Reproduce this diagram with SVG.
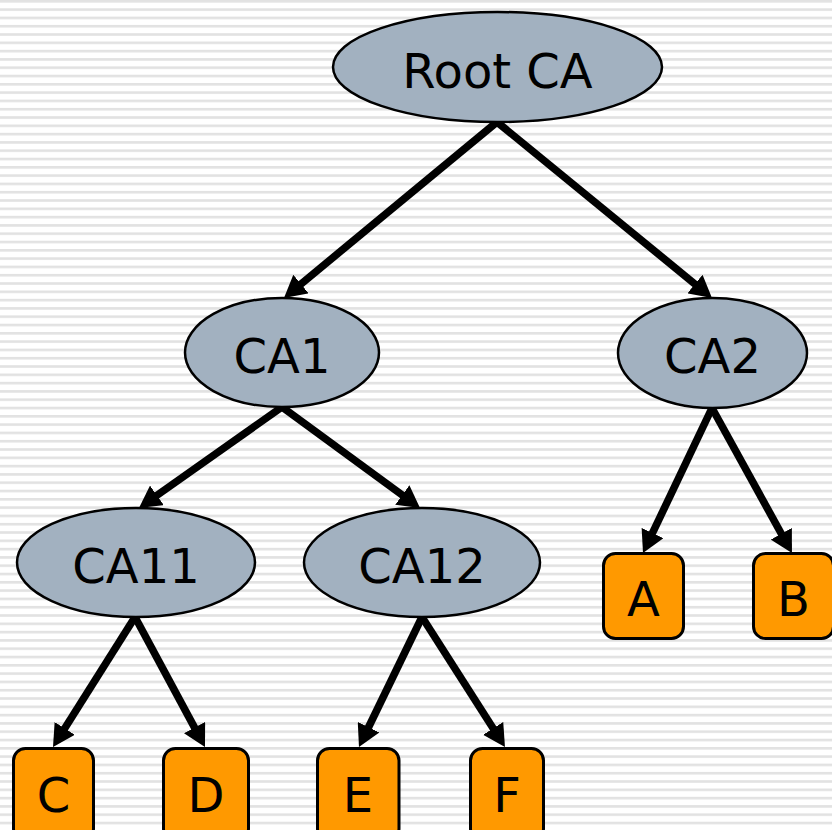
<svg xmlns="http://www.w3.org/2000/svg" width="832" height="830" viewBox="0 0 832 830">
<defs>
<pattern id="stripes" patternUnits="userSpaceOnUse" width="832" height="8.3">
<rect x="0" y="0" width="832" height="8.3" fill="#ffffff"/>
<rect x="0" y="0" width="832" height="2.6" fill="#e2e2e2"/>
</pattern>
<marker id="arrow" markerUnits="userSpaceOnUse" viewBox="0 0 22 24" markerWidth="22" markerHeight="24" refX="2" refY="12" orient="auto">
<path d="M0,0 L22,12 L0,24 z" fill="#000"/>
</marker>
<style>
.ca{fill:#a2b1c0;stroke:#000;stroke-width:2.5}
.leaf{fill:#ff9900;stroke:#000;stroke-width:3}
.lbl{font-family:"DejaVu Sans",Verdana,sans-serif;font-size:48px;fill:#000;text-anchor:middle}
.conn line{stroke:#000;stroke-width:7.5;marker-end:url(#arrow)}
</style>
</defs>
<rect x="0" y="0" width="832" height="830" fill="url(#stripes)"/>
<g id="connectors" class="conn">
<line x1="497" y1="122" x2="299.4" y2="285.3"/>
<line x1="497" y1="122" x2="696.5" y2="285.3"/>
<line x1="282" y1="407" x2="155.3" y2="496.5"/>
<line x1="282" y1="407" x2="403.9" y2="496.2"/>
<line x1="712" y1="408" x2="651.6" y2="534.9"/>
<line x1="712" y1="408" x2="782.3" y2="535.5"/>
<line x1="135" y1="617" x2="63.7" y2="730.1"/>
<line x1="135" y1="617" x2="195.5" y2="729.4"/>
<line x1="422" y1="617" x2="367.7" y2="729"/>
<line x1="422" y1="617" x2="494.2" y2="730.1"/>
</g>
<g id="rootca"><ellipse class="ca" cx="497.5" cy="67" rx="164.5" ry="55"/><text class="lbl" x="497.5" y="87.5">Root CA</text></g>
<g id="ca1"><ellipse class="ca" cx="282" cy="352.5" rx="97" ry="54.5"/><text class="lbl" x="282" y="372.5">CA1</text></g>
<g id="ca2"><ellipse class="ca" cx="712.5" cy="353" rx="94.5" ry="55"/><text class="lbl" x="712.5" y="373">CA2</text></g>
<g id="ca11"><ellipse class="ca" cx="136" cy="562.5" rx="119" ry="54.5"/><text class="lbl" x="136" y="582.5">CA11</text></g>
<g id="ca12"><ellipse class="ca" cx="422" cy="562.5" rx="118" ry="54.5"/><text class="lbl" x="422" y="582.5">CA12</text></g>
<g id="a"><rect class="leaf" x="603.5" y="553.5" width="80" height="85" rx="12"/><text class="lbl" x="643.5" y="615.5">A</text></g>
<g id="b"><rect class="leaf" x="753.5" y="553.5" width="80" height="85" rx="12"/><text class="lbl" x="793.5" y="615.5">B</text></g>
<g id="c"><rect class="leaf" x="13.5" y="748.5" width="80" height="92" rx="12"/><text class="lbl" x="53.5" y="811.5">C</text></g>
<g id="d"><rect class="leaf" x="163.5" y="748.5" width="85" height="92" rx="12"/><text class="lbl" x="206" y="811.5">D</text></g>
<g id="e"><rect class="leaf" x="317.5" y="748.5" width="81.5" height="92" rx="12"/><text class="lbl" x="358" y="811.5">E</text></g>
<g id="f"><rect class="leaf" x="470.5" y="748.5" width="73" height="92" rx="12"/><text class="lbl" x="507" y="811.5">F</text></g>
</svg>
